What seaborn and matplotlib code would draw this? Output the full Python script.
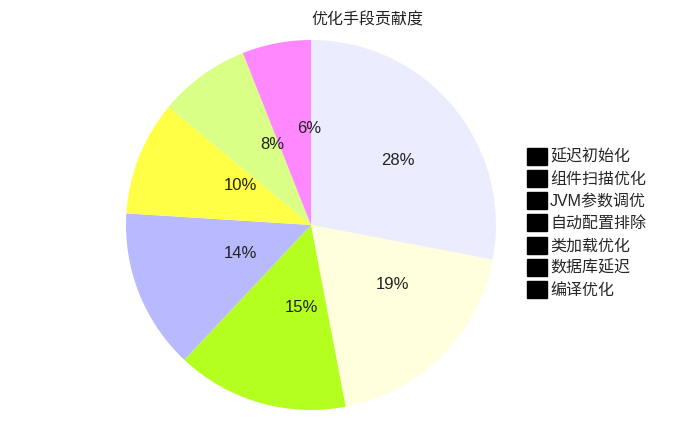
import matplotlib
matplotlib.use("Agg")
import matplotlib.pyplot as plt
import matplotlib.patches as mpatches
import seaborn as sns

# 数据
categories = ['延迟初始化', '组件扫描优化', 'JVM参数调优', '自动配置排除', '类加载优化', '数据库延迟', '编译优化']
values = [28, 19, 15, 14, 10, 8, 6]
colors = ['#ECECFF', '#FFFFDE', '#B5FF20', '#B9B9FF', '#FFFF45', '#D9FF86', '#FF88FF']

sns.set_theme(style='white')
plt.rcParams['font.family'] = ['Liberation Sans', 'Noto Sans CJK SC', 'DejaVu Sans']

fig = plt.figure(figsize=(6.74, 4.26), dpi=100)
ax = fig.add_axes([0.1869, 0.0376, 0.549, 0.8685])

wedges, texts, autotexts = ax.pie(values, colors=colors, startangle=90, counterclock=False,
                                  autopct='%1.0f%%', pctdistance=0.5,
                                  wedgeprops={'linewidth': 0},
                                  textprops={'fontsize': 12, 'color': '#222222'})
# mermaid 的标签整体有点偏移
for t in autotexts:
    x, y = t.get_position()
    t.set_position((x + 0.086, y + 0.032))
ax.set_xlim(-1, 1)
ax.set_ylim(-1, 1)
ax.set_aspect('equal')

fig.text(367 / 674, 1 - 20 / 426, '优化手段贡献度', ha='center', va='center', fontsize=11.5, color='#222222')

# 图例（方块是黑色的）
handles = [mpatches.Patch(color='black') for _ in categories]
fig.legend(handles, categories, loc='upper left', bbox_to_anchor=(527 / 674, 1 - 148 / 426),
           frameon=False, fontsize=11.5, handlelength=1.25, handleheight=1.25,
           handletextpad=0.2, labelspacing=0.33, borderaxespad=0, borderpad=0)

fig.savefig('out.png', dpi=100)
